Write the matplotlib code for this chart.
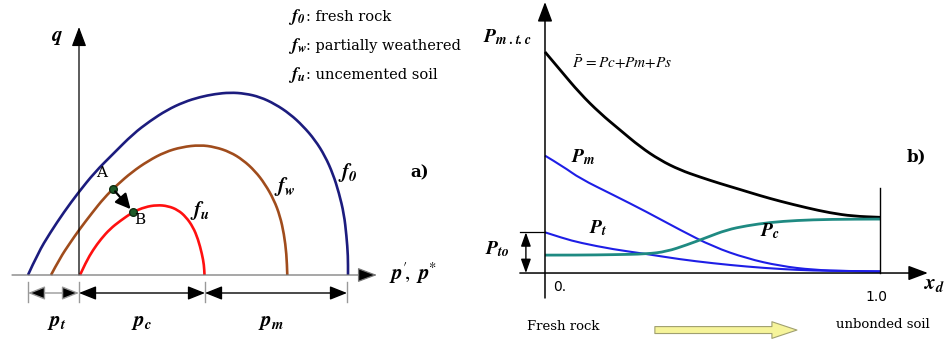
import matplotlib.pyplot as plt
from matplotlib.patches import FancyArrowPatch, ArrowStyle, PathPatch
from matplotlib.path import Path

plt.rcParams['mathtext.fontset'] = 'stix'

# ---------------- panel a: yield surfaces in p'-q space ----------------
# p and q in arbitrary stress units
f0_p = [-5.1, -4.1, -2.9, -1.5, -0.1, 1.6, 3.4, 5.4, 7.1, 8.8, 10.5, 12.1, 13.6, 15.1,
        16.6, 18.1, 19.6, 21.1, 22.4, 23.6, 24.6, 25.4, 26.0, 26.5, 26.75, 26.9, 26.9]
f0_q = [0, 2.2, 4.2, 6.3, 8.2, 10.3, 12.1, 14.1, 15.4, 16.5, 17.3, 17.8, 18.1, 18.25,
        18.15, 17.8, 17.1, 16.1, 14.9, 13.5, 11.9, 10.1, 8.2, 6.1, 3.9, 1.9, 0]

fw_p = [-2.8, -1.9, -0.9, 0, 1.3, 2.5, 3.8, 5.3, 6.9, 8.6, 10.3, 12.1, 13.6, 15.1,
        16.4, 17.6, 18.6, 19.5, 20.1, 20.5, 20.75, 20.83]
fw_q = [0, 1.7, 3.2, 4.5, 6.2, 7.7, 9.0, 10.3, 11.4, 12.3, 12.8, 13.0, 12.8, 12.3,
        11.5, 10.4, 9.1, 7.5, 5.9, 4.1, 2.1, 0]

fu_p = [0.1, 0.7, 1.4, 2.2, 3.1, 4.1, 5.4, 6.6, 7.8, 8.9, 9.9, 10.7, 11.4, 11.9,
        12.3, 12.5, 12.55]
fu_q = [0, 1.3, 2.5, 3.6, 4.6, 5.4, 6.3, 6.8, 7.0, 6.9, 6.5, 5.8, 4.8, 3.6, 2.1, 1.0, 0]

point_A = (3.43, 8.57)
point_B = (5.43, 6.27)

p_t, p_c, p_m = 5.1, 12.6, 14.2

legend_lines = [(r'$\mathbfit{f_0}$', ': fresh rock'),
                (r'$\mathbfit{f_w}$', ': partially weathered'),
                (r'$\mathbfit{f_u}$', ': uncemented soil')]

# ---------------- panel b: strength components vs. weathering ----------------
pbar_x = [0, 0.045, 0.104, 0.164, 0.224, 0.284, 0.343, 0.403, 0.463, 0.522, 0.582,
          0.642, 0.701, 0.781, 0.851, 0.920, 1.0]
pbar_y = [1.0, 0.919, 0.813, 0.723, 0.647, 0.571, 0.511, 0.466, 0.434, 0.405, 0.378,
          0.350, 0.325, 0.295, 0.272, 0.257, 0.252]

pm_x = [0, 0.055, 0.104, 0.204, 0.303, 0.403, 0.502, 0.602, 0.701, 0.801, 0.900, 1.0]
pm_y = [0.531, 0.481, 0.428, 0.353, 0.277, 0.195, 0.119, 0.066, 0.032, 0.014, 0.009, 0.006]

pt_x = [0, 0.055, 0.104, 0.204, 0.303, 0.403, 0.502, 0.602, 0.701, 0.801, 0.900, 1.0]
pt_y = [0.184, 0.157, 0.137, 0.107, 0.086, 0.062, 0.044, 0.029, 0.018, 0.011, 0.009, 0.008]

pc_x = [0, 0.104, 0.204, 0.303, 0.363, 0.423, 0.483, 0.542, 0.602, 0.672, 0.751, 0.851, 1.0]
pc_y = [0.081, 0.081, 0.083, 0.086, 0.097, 0.127, 0.161, 0.195, 0.214, 0.229, 0.238,
        0.243, 0.244]

xd_ticks = [0.0, 1.0]
xd_ticklabels = ['0.', '1.0']

c_f0 = '#1c1c7e'
c_fw = '#a04c1c'
c_fu = '#ff1010'
c_blue = '#1e1ee6'
c_teal = '#1f8a82'


def smooth_curve(ax, xs, ys, color, lw):
    """Draw a sketched curve as a chain of quadratic Beziers through the given points."""
    verts = [(xs[0], ys[0])]
    codes = [Path.MOVETO]
    for i in range(1, len(xs) - 1):
        verts += [(xs[i], ys[i]), ((xs[i] + xs[i + 1]) / 2, (ys[i] + ys[i + 1]) / 2)]
        codes += [Path.CURVE3, Path.CURVE3]
    verts.append((xs[-1], ys[-1]))
    codes.append(Path.LINETO)
    ax.add_patch(PathPatch(Path(verts, codes), fill=False, edgecolor=color, lw=lw,
                           capstyle='butt', joinstyle='round'))


fig = plt.figure(figsize=(9.45, 3.4), dpi=100)
ax_a = fig.add_axes([0, 0, 480 / 945, 1])
ax_b = fig.add_axes([480 / 945, 0, 465 / 945, 1])

# ---- panel a ----
ax_a.set_xlim(-7.9, 40.1)
ax_a.set_ylim(-6.5, 27.5)
ax_a.axis('off')

smooth_curve(ax_a, f0_p, f0_q, c_f0, 1.9)
smooth_curve(ax_a, fw_p, fw_q, c_fw, 1.9)
smooth_curve(ax_a, fu_p, fu_q, c_fu, 1.9)

# axes with arrow heads
ax_a.annotate('', xy=(0, 24.8), xytext=(0, 0),
              arrowprops=dict(arrowstyle='-|>,head_length=0.8,head_width=0.3',
                              mutation_scale=15, color='black', lw=0.9,
                              shrinkA=0, shrinkB=0))
ax_a.annotate('', xy=(29.8, 0), xytext=(-6.7, 0),
              arrowprops=dict(arrowstyle='-|>,head_length=0.8,head_width=0.3',
                              mutation_scale=15, facecolor='black', edgecolor='#777777',
                              lw=0.9, shrinkA=0, shrinkB=0))

# A -> B path
ax_a.annotate('', xy=point_B, xytext=point_A,
              arrowprops=dict(arrowstyle='-|>,head_length=0.6,head_width=0.3',
                              mutation_scale=15, color='black', lw=1.6,
                              shrinkA=2, shrinkB=3))
ax_a.plot(*zip(point_A, point_B), 'o', ms=5.5, mfc='#1e5a28', mec='#0e2e12', lw=0)

# dimension lines under the p axis
bounds = [-p_t, 0, p_c, p_c + p_m]
for b in bounds:
    ax_a.plot([b, b], [-0.7, -2.7], color='#999999', lw=1.0)
for (x0, x1), col in zip(zip(bounds[:-1], bounds[1:]), ['#999999', 'black', 'black']):
    ax_a.annotate('', xy=(x1, -1.8), xytext=(x0, -1.8),
                  arrowprops=dict(arrowstyle='<|-|>,head_length=0.7,head_width=0.28',
                                  mutation_scale=15, facecolor='black', edgecolor=col,
                                  lw=1.0, shrinkA=0, shrinkB=0))

lab_kw = dict(fontsize=15, ha='center', va='center')
ax_a.text(-p_t / 2 + 0.3, -4.7, r'$\mathbfit{p_t}$', **lab_kw)
ax_a.text(p_c / 2, -4.7, r'$\mathbfit{p_c}$', **lab_kw)
ax_a.text(p_c + p_m / 2 - 0.5, -4.7, r'$\mathbfit{p_m}$', **lab_kw)

ax_a.text(-2.2, 23.8, r'$\mathbfit{q}$', fontsize=15, ha='center', va='center')
ax_a.text(31.0, 0.2, r"$\mathbfit{p}'\!,\ \mathbfit{p}^{*}$", fontsize=15, ha='left',
          va='center')
ax_a.text(2.3, 10.2, 'A', fontsize=11, ha='center', va='center', family='DejaVu Serif')
ax_a.text(6.1, 5.5, 'B', fontsize=11, ha='center', va='center', family='DejaVu Serif')
ax_a.text(26.9, 10.3, r'$\mathbfit{f_0}$', fontsize=15, ha='center', va='center')
ax_a.text(20.6, 8.8, r'$\mathbfit{f_w}$', fontsize=15, ha='center', va='center')
ax_a.text(12.1, 6.5, r'$\mathbfit{f_u}$', fontsize=15, ha='center', va='center')
ax_a.text(34.1, 10.2, 'a)', fontsize=12, fontweight='bold', ha='center', va='center',
          family='DejaVu Serif')

for i, (sym, desc) in enumerate(legend_lines):
    y = 25.8 - 2.9 * i
    ax_a.text(20.9, y, sym, fontsize=13, ha='left', va='center')
    ax_a.text(22.7, y, desc, fontsize=10.5, ha='left', va='center', family='DejaVu Serif')

# ---- panel b ----
ax_b.set_xlim(-0.194, 1.194)
ax_b.set_ylim(-0.303, 1.235)
ax_b.axis('off')

smooth_curve(ax_b, pbar_x, pbar_y, 'black', 2.0)
smooth_curve(ax_b, pm_x, pm_y, c_blue, 1.5)
smooth_curve(ax_b, pt_x, pt_y, c_blue, 1.5)
smooth_curve(ax_b, pc_x, pc_y, c_teal, 2.0)

ax_b.annotate('', xy=(0, 1.226), xytext=(0, -0.113),
              arrowprops=dict(arrowstyle='-|>,head_length=0.8,head_width=0.3',
                              mutation_scale=15, color='black', lw=1.1,
                              shrinkA=0, shrinkB=0))
ax_b.annotate('', xy=(1.143, 0), xytext=(-0.075, 0),
              arrowprops=dict(arrowstyle='-|>,head_length=0.8,head_width=0.3',
                              mutation_scale=15, color='black', lw=1.1,
                              shrinkA=0, shrinkB=0))
ax_b.plot([1.0, 1.0], [0, 0.385], color='black', lw=1.0)

# initial tensile strength marker
ax_b.plot([-0.075, 0], [pt_y[0], pt_y[0]], color='black', lw=0.9)
ax_b.annotate('', xy=(-0.057, pt_y[0]), xytext=(-0.057, 0),
              arrowprops=dict(arrowstyle='<|-|>,head_length=0.7,head_width=0.25',
                              mutation_scale=12, color='black', lw=1.0,
                              shrinkA=0, shrinkB=0))

ax_b.text(-0.143, 0.11, r'$\mathbfit{P_{to}}$', fontsize=14, ha='center', va='center')
ax_b.text(-0.113, 1.065, r'$\mathbfit{P_{m\ .t.c}}$', fontsize=14, ha='center', va='center')
ax_b.text(0.08, 0.955, r'$\bar{P}\,{=}Pc{+}Pm{+}Ps$', fontsize=11, ha='left', va='center')
ax_b.text(0.113, 0.525, r'$\mathbfit{P_m}$', fontsize=14, ha='center', va='center')
ax_b.text(0.158, 0.205, r'$\mathbfit{P_t}$', fontsize=14, ha='center', va='center')
ax_b.text(0.672, 0.188, r'$\mathbfit{P_c}$', fontsize=14, ha='center', va='center')
ax_b.text(1.11, 0.525, 'b)', fontsize=12, fontweight='bold', ha='center', va='center',
          family='DejaVu Serif')
ax_b.text(1.164, -0.05, r'$\mathbfit{x_d}$', fontsize=15, ha='center', va='center')

for x, s in zip(xd_ticks, xd_ticklabels):
    off, yy = (0.045, -0.063) if x == 0 else (-0.01, -0.109)
    ax_b.text(x + off, yy, s, fontsize=10, ha='center', va='center', family='DejaVu Sans')

ax_b.text(0.054, -0.244, 'Fresh rock', fontsize=9.5, ha='center', va='center',
          family='DejaVu Serif')
ax_b.text(1.009, -0.235, 'unbonded soil', fontsize=9.5, ha='center', va='center',
          family='DejaVu Serif')
ax_b.add_patch(FancyArrowPatch((0.328, -0.258), (0.752, -0.258),
                               arrowstyle=ArrowStyle.Simple(head_length=0.9, head_width=0.6,
                                                            tail_width=0.25),
                               mutation_scale=20, facecolor='#f6f49a',
                               edgecolor='#a0a070', lw=0.8, shrinkA=0, shrinkB=0))

fig.savefig('out.png', dpi=100)
